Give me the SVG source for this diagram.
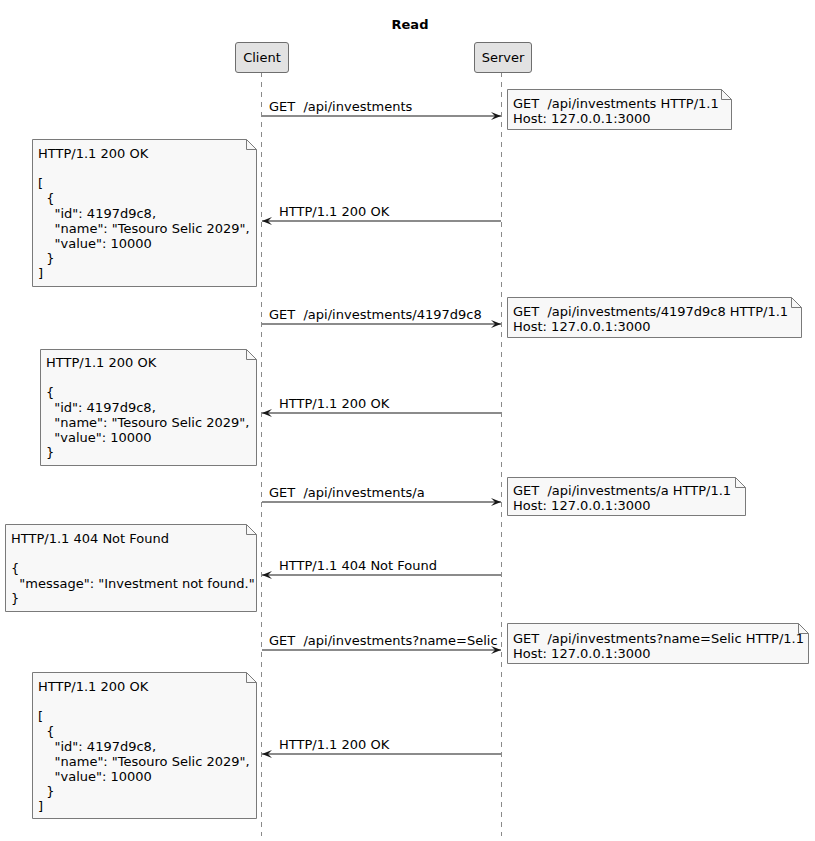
<svg xmlns="http://www.w3.org/2000/svg" width="815" height="841" viewBox="0 0 815 841" xml:space="preserve">
<defs>
<style>
text{font-family:"DejaVu Sans","Liberation Sans",sans-serif;font-size:13px;fill:#000;white-space:pre}
.title{font-size:13px;font-weight:bold}
.part{fill:#e2e2e2;stroke:#6e6e6e;stroke-width:1}
.life{stroke:#8a8a8a;stroke-width:1;stroke-dasharray:5,5;fill:none}
.note{fill:#f8f8f8;stroke:#7a7a7a;stroke-width:1}
.fold{fill:none;stroke:#7a7a7a;stroke-width:1}
.msg{stroke:#181818;stroke-width:1.2;fill:none;marker-end:url(#ah)}
</style>
<marker id="ah" viewBox="0 0 10 8" refX="10" refY="4" markerWidth="10" markerHeight="8" markerUnits="userSpaceOnUse" orient="auto">
<path d="M0,0 L10,4 L0,8 L4,4 Z" fill="#181818"/>
</marker>
</defs>
<rect width="815" height="841" fill="#ffffff"/>
<text class="title" x="410" y="29" text-anchor="middle">Read</text>

<g id="lifelines">
<line class="life" x1="261.5" y1="72" x2="261.5" y2="836"/>
<line class="life" x1="501.5" y1="72" x2="501.5" y2="836"/>
</g>

<g id="client">
<rect class="part" x="235.5" y="42.5" width="53" height="30" rx="2.5"/>
<text x="262" y="62" text-anchor="middle">Client</text>
</g>
<g id="server">
<rect class="part" x="474.5" y="42.5" width="57" height="30" rx="2.5"/>
<text x="503" y="62" text-anchor="middle">Server</text>
</g>

<g id="connectors">
<line class="msg" x1="262" y1="116" x2="501" y2="116"/>
<text x="269" y="111">GET  /api/investments</text>
<line class="msg" x1="501" y1="221" x2="262" y2="221"/>
<text x="279" y="216">HTTP/1.1 200 OK</text>
<line class="msg" x1="262" y1="324" x2="501" y2="324"/>
<text x="269" y="319">GET  /api/investments/4197d9c8</text>
<line class="msg" x1="501" y1="413" x2="262" y2="413"/>
<text x="279" y="408">HTTP/1.1 200 OK</text>
<line class="msg" x1="262" y1="502" x2="501" y2="502"/>
<text x="269" y="497">GET  /api/investments/a</text>
<line class="msg" x1="501" y1="575" x2="262" y2="575"/>
<text x="279" y="570">HTTP/1.1 404 Not Found</text>
<line class="msg" x1="262" y1="650" x2="501" y2="650"/>
<text x="269" y="645">GET  /api/investments?name=Selic</text>
<line class="msg" x1="501" y1="754" x2="262" y2="754"/>
<text x="279" y="749">HTTP/1.1 200 OK</text>
</g>

<g id="note1">
<path class="note" d="M507.5,89.5 H721.5 L731.5,99.5 V129.5 H507.5 Z"/>
<path class="fold" d="M721.5,89.5 V99.5 H731.5"/>
<text x="513" y="108">GET  /api/investments HTTP/1.1</text>
<text x="513" y="123">Host: 127.0.0.1:3000</text>
</g>

<g id="note2">
<path class="note" d="M32.5,139.5 H246.5 L256.5,149.5 V286.5 H32.5 Z"/>
<path class="fold" d="M246.5,139.5 V149.5 H256.5"/>
<text x="38" y="158">HTTP/1.1 200 OK</text>
<text x="38" y="188">[</text>
<text x="38" y="203">  {</text>
<text x="38" y="218">    "id": 4197d9c8,</text>
<text x="38" y="233">    "name": "Tesouro Selic 2029",</text>
<text x="38" y="248">    "value": 10000</text>
<text x="38" y="263">  }</text>
<text x="38" y="278">]</text>
</g>

<g id="note3">
<path class="note" d="M507.5,297.5 H791.5 L801.5,307.5 V337.5 H507.5 Z"/>
<path class="fold" d="M791.5,297.5 V307.5 H801.5"/>
<text x="513" y="316">GET  /api/investments/4197d9c8 HTTP/1.1</text>
<text x="513" y="331">Host: 127.0.0.1:3000</text>
</g>

<g id="note4">
<path class="note" d="M40.5,349.5 H246.5 L256.5,359.5 V465.5 H40.5 Z"/>
<path class="fold" d="M246.5,349.5 V359.5 H256.5"/>
<text x="46" y="367">HTTP/1.1 200 OK</text>
<text x="46" y="397">{</text>
<text x="46" y="412">  "id": 4197d9c8,</text>
<text x="46" y="427">  "name": "Tesouro Selic 2029",</text>
<text x="46" y="442">  "value": 10000</text>
<text x="46" y="457">}</text>
</g>

<g id="note5">
<path class="note" d="M507.5,477.5 H735.5 L745.5,487.5 V515.5 H507.5 Z"/>
<path class="fold" d="M735.5,477.5 V487.5 H745.5"/>
<text x="513" y="495">GET  /api/investments/a HTTP/1.1</text>
<text x="513" y="510">Host: 127.0.0.1:3000</text>
</g>

<g id="note6">
<path class="note" d="M5.5,524.5 H246.5 L256.5,534.5 V611.5 H5.5 Z"/>
<path class="fold" d="M246.5,524.5 V534.5 H256.5"/>
<text x="11" y="543">HTTP/1.1 404 Not Found</text>
<text x="11" y="573">{</text>
<text x="11" y="588">  "message": "Investment not found."</text>
<text x="11" y="603">}</text>
</g>

<g id="note7">
<path class="note" d="M507.5,623.5 H798.5 L808.5,633.5 V663.5 H507.5 Z"/>
<path class="fold" d="M798.5,623.5 V633.5 H808.5"/>
<text x="513" y="643">GET  /api/investments?name=Selic HTTP/1.1</text>
<text x="513" y="658">Host: 127.0.0.1:3000</text>
</g>

<g id="note8">
<path class="note" d="M32.5,672.5 H246.5 L256.5,682.5 V818.5 H32.5 Z"/>
<path class="fold" d="M246.5,672.5 V682.5 H256.5"/>
<text x="38" y="691">HTTP/1.1 200 OK</text>
<text x="38" y="721">[</text>
<text x="38" y="736">  {</text>
<text x="38" y="751">    "id": 4197d9c8,</text>
<text x="38" y="766">    "name": "Tesouro Selic 2029",</text>
<text x="38" y="781">    "value": 10000</text>
<text x="38" y="796">  }</text>
<text x="38" y="811">]</text>
</g>
</svg>
